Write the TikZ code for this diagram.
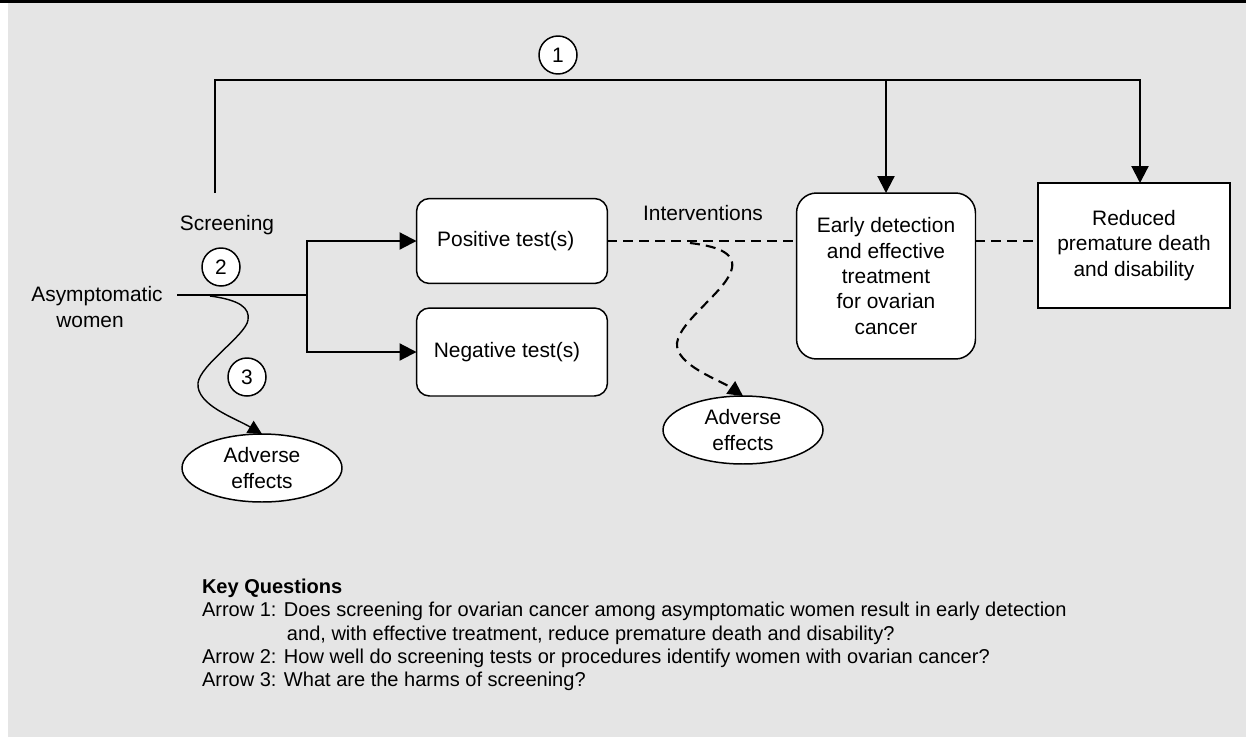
\documentclass[tikz,border=0pt]{standalone}
\usepackage{fontspec}
\setmainfont{Liberation Sans}
\usetikzlibrary{arrows.meta,shapes.geometric}
\definecolor{panelgray}{RGB}{229,229,229}

\begin{document}
\begin{tikzpicture}[x=0.02cm,y=-0.02cm,
    every node/.style={font=\fontsize{11.9pt}{14.5pt}\selectfont,inner sep=0pt,outer sep=0pt},
    box/.style={draw,fill=white,line width=0.85pt,align=center},
    roundbox/.style={box,rounded corners=0.26cm},
    harm/.style={ellipse,draw,fill=white,line width=0.85pt,minimum width=3.2cm,minimum height=1.36cm,align=center},
    num/.style={circle,draw,fill=white,line width=0.85pt,minimum size=0.76cm},
    link/.style={line width=1.2pt,-{Triangle[length=0.34cm,width=0.34cm]}},
    path3/.style={line width=0.8pt,-{Triangle[length=0.28cm,width=0.28cm]}},
    pathdash/.style={line width=1.2pt,dash pattern=on 0.2cm off 0.12cm,-{Triangle[length=0.3cm,width=0.3cm]}}]

    \useasboundingbox (0,0) rectangle (1246,737);
    \fill[panelgray] (8,3) rectangle (1246,737);
    \fill[black] (0,0) rectangle (1246,3);

    \node[roundbox,minimum width=3.82cm,minimum height=1.7cm]   (pos)     at (512,241)   {Positive test(s)\hspace*{0.25cm}};
    \node[roundbox,minimum width=3.82cm,minimum height=1.76cm]  (neg)     at (512,352)   {Negative test(s)\hspace*{0.2cm}};
    \node[box,rounded corners=0.4cm,minimum width=3.58cm,minimum height=3.32cm] (early) at (886,276)
        {Early detection\\and effective\\treatment\\for ovarian\\cancer};
    \node[box,minimum width=3.84cm,minimum height=2.5cm]        (reduced) at (1134,245.5)
        {Reduced\\premature death\\and disability};
    \node[harm]  (harm1) at (262,468) {Adverse\\effects};
    \node[harm]  (harm2) at (743,430) {Adverse\\effects};
    \node[align=left] (women) at (97,307) {Asymptomatic\\\hspace*{0.5cm}women};
    \node (scrtext) at (227,225) {Screening};
    \node (inttext) at (703,213) {Interventions};
    \node[num] (k1) at (558,55)  {1};
    \node[num] (k2) at (221,267) {2};
    \node[num] (k3) at (247,377) {3};

    \coordinate (scr)   at (215,193);
    \coordinate (bend)  at (215,80);
    \coordinate (start) at (177,295);
    \coordinate (split) at (307,295);
    \coordinate (w3)    at (210,296);
    \coordinate (w4)    at (690,243);

    \draw[link] (scr) -- (bend) -| ([xshift=0.12cm]reduced.north);
    \draw[link] (early.north |- bend) -- (early);
    \draw[line width=1.2pt] (start) -- (split);
    \draw[link] (split) |- (pos);
    \draw[link] (split) |- (neg);
    \draw[line width=1.2pt,dash pattern=on 0.2cm off 0.12cm] (pos.east) -- (pos.east -| early.west);
    \draw[line width=1.2pt,dash pattern=on 0.2cm off 0.12cm] (pos.east -| early.east) -- (pos.east -| reduced.west);
    \draw[path3] (w3) .. controls (240,300) and (250,308) .. (248,320)
        .. controls (246,335) and (200,365) .. (198,383)
        .. controls (196,405) and (235,418) .. (harm1.north);
    \draw[pathdash] (w4) .. controls (715,246) and (735,252) .. (732,268)
        .. controls (728,290) and (680,320) .. (677,343)
        .. controls (675,365) and (720,380) .. (harm2.north);

    \node[anchor=north west,align=left,font=\fontsize{11.4pt}{13.25pt}\selectfont] (keyq) at (202,579)
        {\textbf{Key Questions}\\
        Arrow 1: Does screening for ovarian cancer among asymptomatic women result in early detection\\
        \hspace*{1.7cm}and, with effective treatment, reduce premature death and disability?\\
        Arrow 2: How well do screening tests or procedures identify women with ovarian cancer?\\
        Arrow 3: What are the harms of screening?};
\end{tikzpicture}
\end{document}
